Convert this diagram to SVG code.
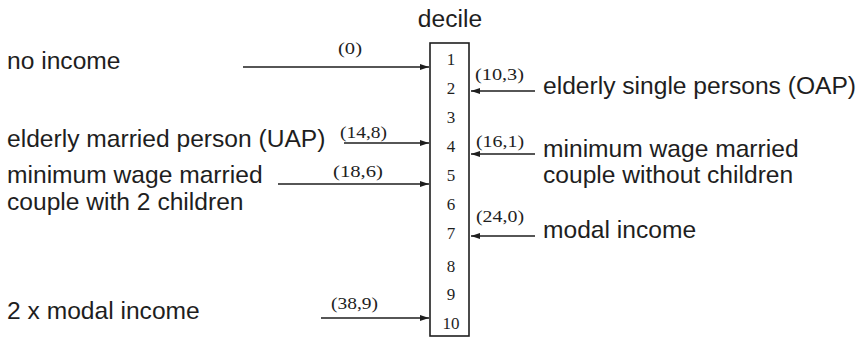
<svg xmlns="http://www.w3.org/2000/svg" width="859" height="338" viewBox="0 0 859 338">
<style>
.lbl{font-family:"Liberation Sans",Arial,sans-serif;font-size:24.6px;fill:#1e1e1e}
.val{font-family:"Liberation Serif","Times New Roman",serif;font-size:16px;fill:#1e1e1e}
.num{font-family:"Liberation Serif","Times New Roman",serif;font-size:17px;fill:#1e1e1e;text-anchor:middle}
.arr{stroke:#1e1e1e;stroke-width:1.6;fill:none;marker-end:url(#ah)}
</style>
<defs>
<marker id="ah" markerUnits="userSpaceOnUse" markerWidth="10" markerHeight="6" refX="9" refY="3" orient="auto">
<path d="M0,0 L9,3 L0,6 Z" fill="#1e1e1e"/>
</marker>
</defs>
<rect width="859" height="338" fill="#ffffff"/>
<g id="decile">
<text class="lbl" x="450" y="27" text-anchor="middle">decile</text>
<rect x="430" y="43" width="39" height="293" fill="none" stroke="#1e1e1e" stroke-width="1.6"/>
<text class="num" x="451" y="65">1</text>
<text class="num" x="451" y="94">2</text>
<text class="num" x="451" y="123">3</text>
<text class="num" x="451" y="152">4</text>
<text class="num" x="451" y="181">5</text>
<text class="num" x="451" y="210">6</text>
<text class="num" x="451" y="239">7</text>
<text class="num" x="451" y="272">8</text>
<text class="num" x="451" y="300">9</text>
<text class="num" x="451" y="329">10</text>
</g>
<g id="no-income"><text class="lbl" x="7" y="69">no income</text></g>
<g id="uap"><text class="lbl" x="7" y="147">elderly married person (UAP)</text></g>
<g id="mw-children"><text class="lbl" x="7" y="183">minimum wage married</text><text class="lbl" x="7" y="210">couple with 2 children</text></g>
<g id="two-modal"><text class="lbl" x="7" y="319">2 x modal income</text></g>
<g id="oap"><text class="lbl" x="543" y="94">elderly single persons (OAP)</text></g>
<g id="mw-nochildren"><text class="lbl" x="543" y="157">minimum wage married</text><text class="lbl" x="543" y="183">couple without children</text></g>
<g id="modal"><text class="lbl" x="543" y="238">modal income</text></g>
<g id="connectors">
<line class="arr" x1="243" y1="67" x2="429" y2="67"/>
<text class="val" x="338" y="54" textLength="24" lengthAdjust="spacingAndGlyphs">(0)</text>
<line class="arr" x1="344" y1="143" x2="429" y2="143"/>
<text class="val" x="340" y="138" textLength="47" lengthAdjust="spacingAndGlyphs">(14,8)</text>
<line class="arr" x1="278" y1="184" x2="429" y2="184"/>
<text class="val" x="333" y="177" textLength="50" lengthAdjust="spacingAndGlyphs">(18,6)</text>
<line class="arr" x1="321" y1="318" x2="429" y2="318"/>
<text class="val" x="331" y="309" textLength="47" lengthAdjust="spacingAndGlyphs">(38,9)</text>
<line class="arr" x1="535" y1="91" x2="471" y2="91"/>
<text class="val" x="475" y="80" textLength="49" lengthAdjust="spacingAndGlyphs">(10,3)</text>
<line class="arr" x1="535" y1="154" x2="471" y2="154"/>
<text class="val" x="476" y="147" textLength="48" lengthAdjust="spacingAndGlyphs">(16,1)</text>
<line class="arr" x1="535" y1="236" x2="471" y2="236"/>
<text class="val" x="476" y="222" textLength="48" lengthAdjust="spacingAndGlyphs">(24,0)</text>
</g>
</svg>
